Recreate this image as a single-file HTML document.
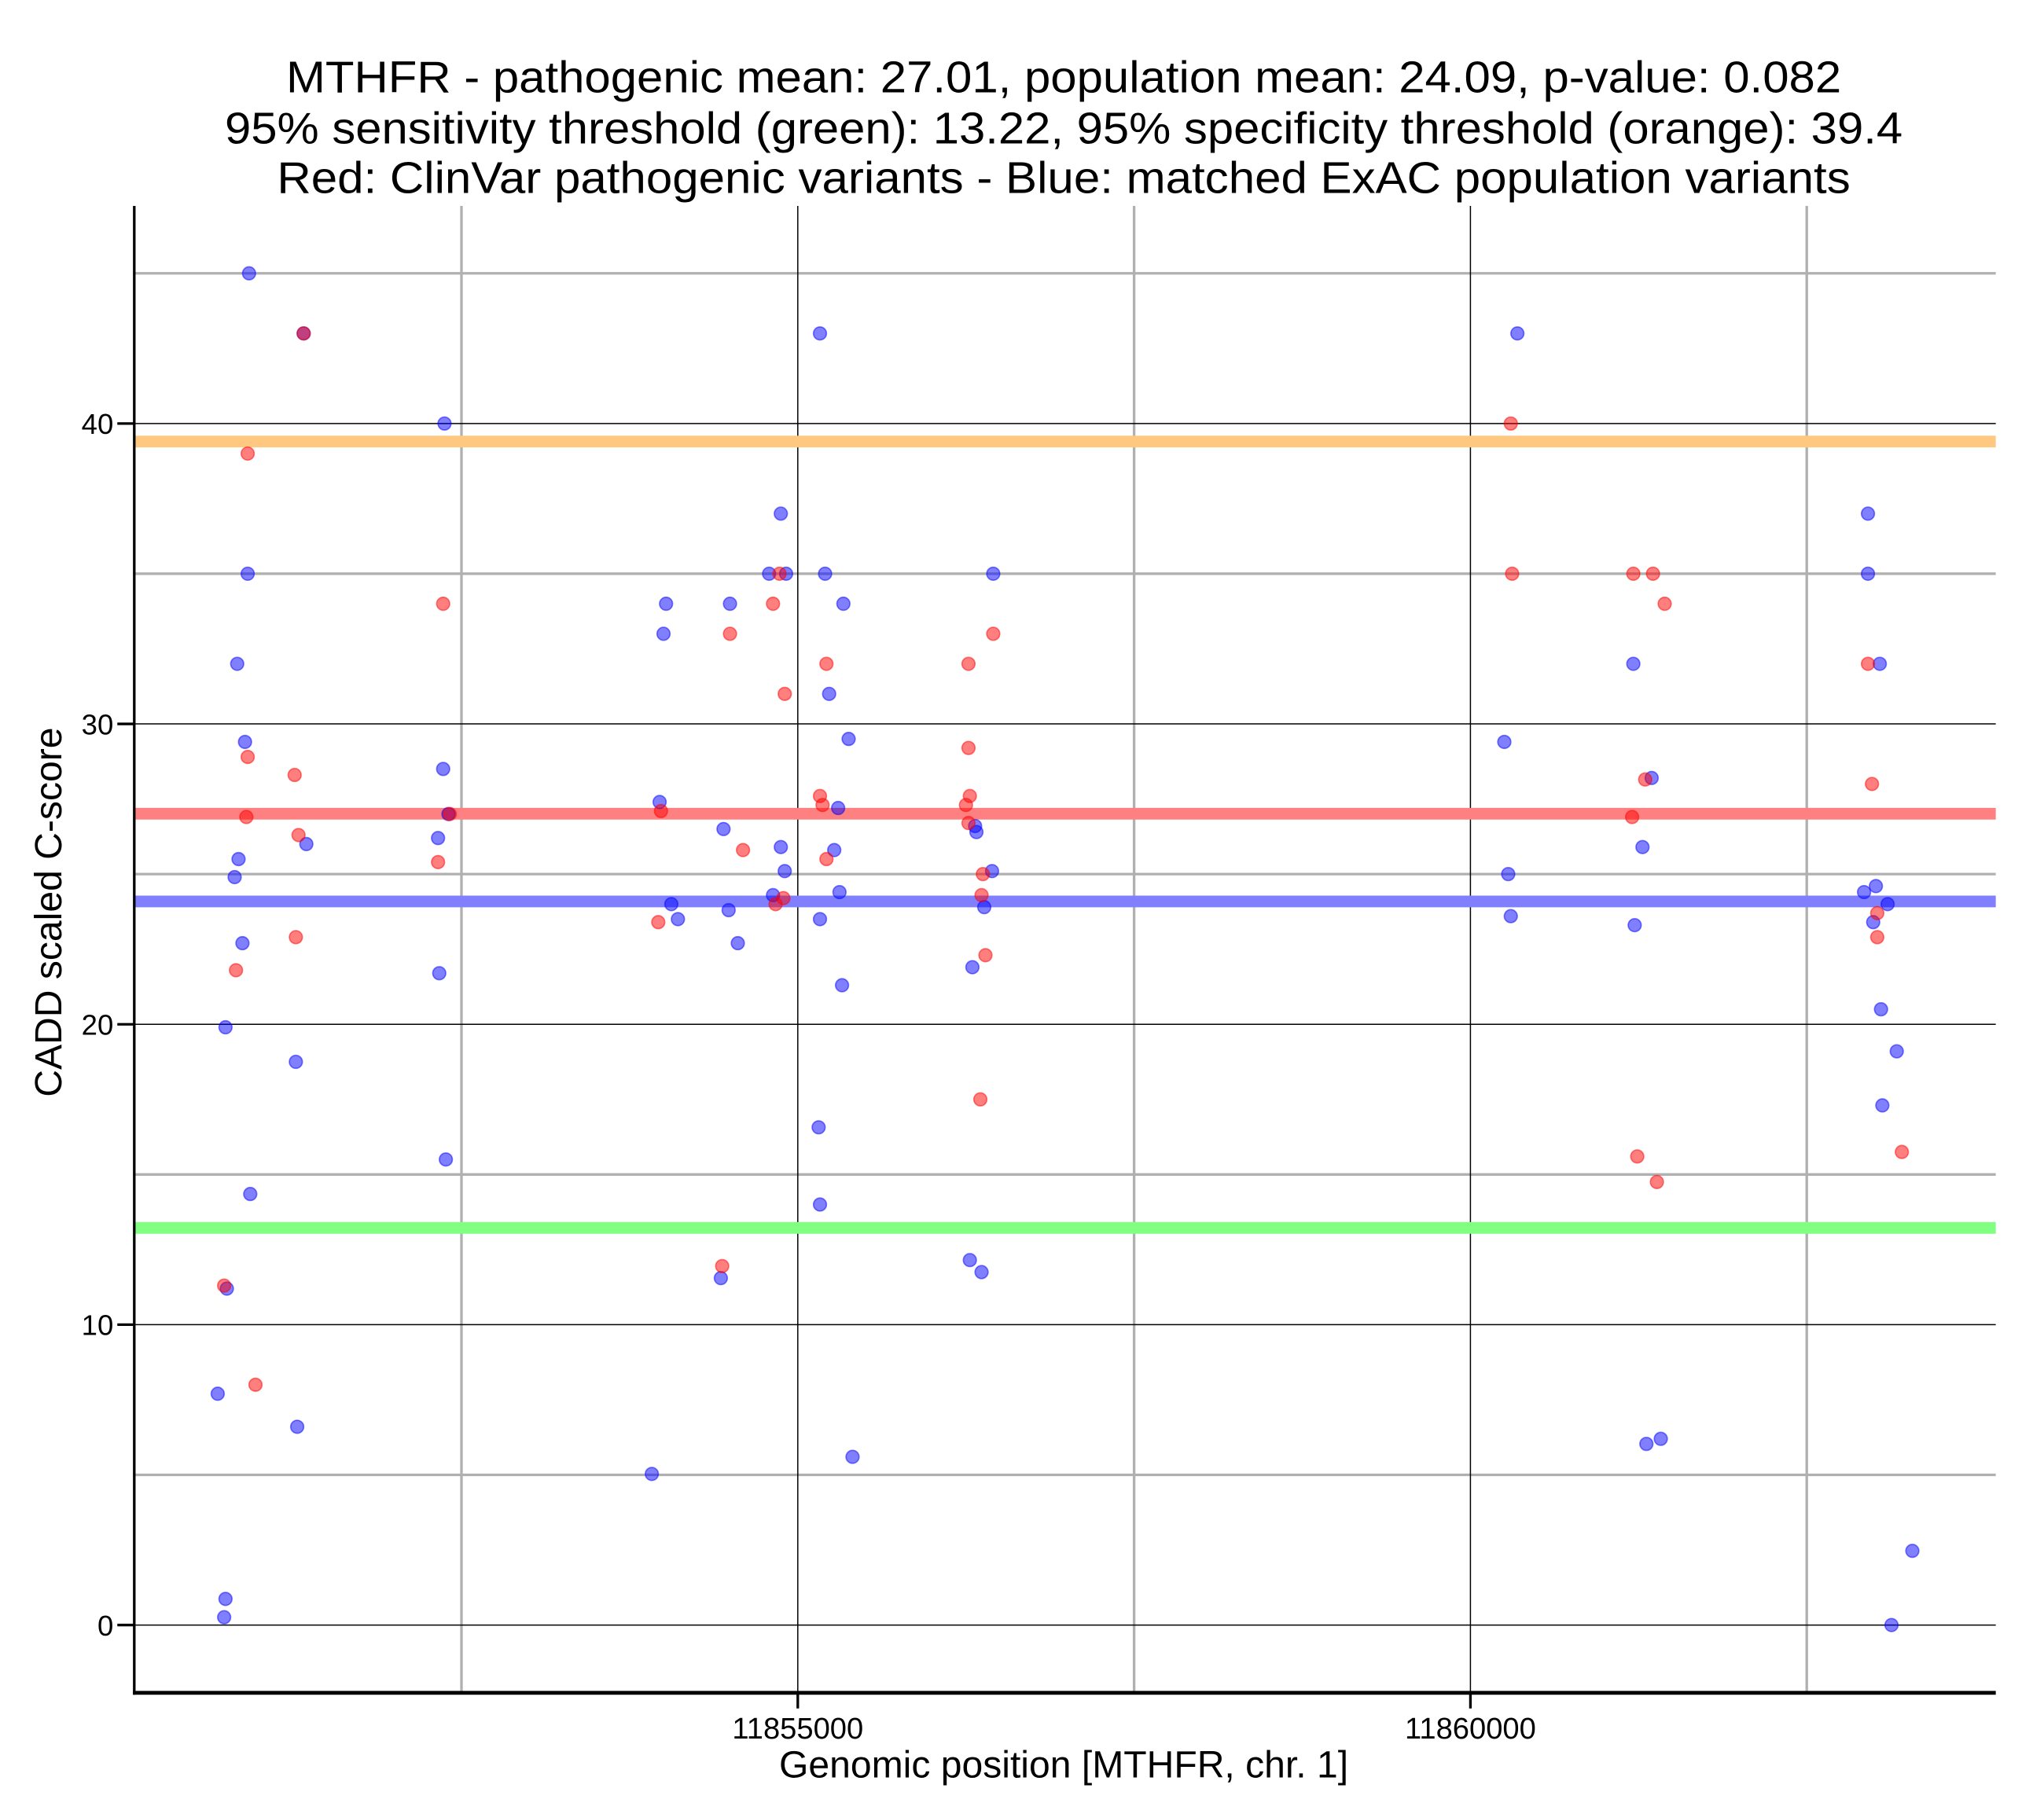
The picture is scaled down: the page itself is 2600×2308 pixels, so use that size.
<!DOCTYPE html>
<html><head><meta charset="utf-8"><style>
html,body{margin:0;padding:0;background:#fff;}
svg{display:block;font-family:"Liberation Sans",Arial,sans-serif;}
</style></head><body>
<svg id="chart" width="2600" height="2308" viewBox="0 0 1568 1392" preserveAspectRatio="none" xmlns="http://www.w3.org/2000/svg">
<rect x="0" y="0" width="1568" height="1392" fill="#fff"/>
<g font-size="34" text-anchor="middle" fill="#000">
<text x="816" y="71" textLength="1193" lengthAdjust="spacingAndGlyphs">MTHFR - pathogenic mean: 27.01, population mean: 24.09, p-value: 0.082</text>
<text x="816" y="110" textLength="1287" lengthAdjust="spacingAndGlyphs">95% sensitivity threshold (green): 13.22, 95% specificity threshold (orange): 39.4</text>
<text x="816" y="148" textLength="1207" lengthAdjust="spacingAndGlyphs">Red: ClinVar pathogenic variants - Blue: matched ExAC population variants</text>
</g>
<g id="grid"></g>
<g id="hlines"></g>
<g id="points"></g>
<g id="axes"></g>
<text x="816" y="1364" font-size="29" text-anchor="middle">Genomic position [MTHFR, chr. 1]</text>
<text transform="translate(47,700) rotate(-90)" font-size="29" text-anchor="middle">CADD scaled C-score</text>
</svg>
<script>
const xTicks = [11855000, 11860000];
const xMinor = [11852500, 11857500, 11862500];
const yTicks = [0, 10, 20, 30, 40];
const yMinor = [5, 15, 25, 35, 45];
const thresholdValues = [39.4, 27.01, 24.09, 13.22];
const thresholdNames = ['specificity-threshold-line', 'pathogenic-mean-line', 'population-mean-line', 'sensitivity-threshold-line'];
const thresholdColors = ['#ffc880', '#ff8080', '#8080ff', '#80ff80'];
const bluePos = [11850921,11851327,11852374,11850911,11850833,11850891,11850843,11850814,11850872,11850746,11851269,11851347,11850930,11850756,11850688,11851279,11850746,11850736,11852364,11852326,11852335,11852384,11852403,
11854021,11854002,11853973,11854060,11854109,11853915,11854496,11854448,11854486,11854554,11854428,
11854787,11854874,11854913,11854874,11854903,11854816,11855165,11855203,11855339,11855233,11855378,11855300,11855271,11855310,11855165,11855329,11855155,11855165,11855407,
11856453,11856318,11856328,11856444,11856386,11856298,11856279,11856366,
11860349,11860252,11860281,11860300,
11861211,11861347,11861279,11861221,11861308,11861415,
11862955,11862955,11863043,11862926,11863014,11862994,11863101,11863052,11863169,11863062,11863285,11863130];
const blueScore = [45,43,40,35,32,29.4,25.5,24.9,22.7,19.9,18.75,26.0,14.35,11.2,7.7,6.6,0.87,0.26,28.5,26.2,21.7,15.5,27.0,
34,33,27.4,24.0,23.5,5.03,34,26.5,23.8,22.7,11.55,
35,37,35,25.9,25.1,24.3,43,35,34,31,29.5,27.2,25.8,24.4,23.5,21.3,16.57,14.0,5.6,
35,26.6,26.4,25.1,23.9,21.9,12.15,11.75,
43,29.4,25,23.6,
32,28.2,25.9,23.3,6.03,6.2,
37,35,32,24.4,24.6,23.4,24.0,20.5,19.1,17.3,2.47,0];
const redPos = [11851327,11850911,11850911,11850901,11850824,11851260,11851289,11851269,11850736,11850969,11852364,11852326,11852413,
11853983,11853963,11854496,11854593,11854438,
11854816,11854864,11854903,11854893,11854835,11855213,11855165,11855184,11855213,
11856269,11856453,11856269,11856279,11856250,11856269,11856376,11856366,11856395,11856357,
11860300,11860310,
11861211,11861357,11861444,11861299,11861202,11861240,11861386,
11862955,11862985,11863024,11863024,11863207];
const redScore = [43,39,28.9,26.9,21.8,28.3,26.3,22.9,11.3,8.0,34,25.4,27.0,
27.1,23.4,33,25.8,11.95,
34,35,31,24.2,24,32,27.6,27.3,25.5,
32,33,29.2,27.6,27.3,26.7,25,24.3,22.3,17.5,
40,35,
35,35,34,28.15,26.9,15.6,14.75,
32,28,23.7,22.9,15.75];

const NS = 'http://www.w3.org/2000/svg';
const L = 103, R = 1531, T = 158, B = 1299;
function xs(p){ return 612 + (p - 11855000) * 516 / 5000; }
function ys(v){ return 1247 - v * 23.05; }
function mk(tag, attrs, parent){ const e = document.createElementNS(NS, tag); for (const k in attrs) e.setAttribute(k, attrs[k]); parent.appendChild(e); return e; }

const grid = document.getElementById('grid');
yMinor.forEach(v => {
  const e = mk('line', {x1:L, x2:R, y1:ys(v), y2:ys(v), stroke:'#b0b0b0', 'stroke-width':2}, grid);
  
  
});
xMinor.forEach(p => {
  const e = mk('line', {x1:xs(p), x2:xs(p), y1:T, y2:B, stroke:'#b0b0b0', 'stroke-width':2}, grid);
  
  
});
yTicks.forEach(v => {
  const e = mk('line', {x1:L, x2:R, y1:ys(v), y2:ys(v), stroke:'#000', 'stroke-width':0.9}, grid);
  
  
});
xTicks.forEach(p => {
  const e = mk('line', {x1:xs(p), x2:xs(p), y1:T, y2:B, stroke:'#000', 'stroke-width':0.9}, grid);
  
  
});

const hl = document.getElementById('hlines');
thresholdValues.forEach((v, i) => {
  const e = mk('line', {x1:L, x2:R, y1:ys(v), y2:ys(v), stroke:thresholdColors[i], 'stroke-width':9}, hl);
  
  
});

const pts = document.getElementById('points');
bluePos.forEach((p, i) => {
  const e = mk('circle', {cx:xs(p), cy:ys(blueScore[i]), r:5, fill:'rgba(0,0,255,0.5)', stroke:'rgba(0,0,255,0.5)', 'stroke-width':1}, pts);
  
  
});
redPos.forEach((p, i) => {
  const e = mk('circle', {cx:xs(p), cy:ys(redScore[i]), r:5, fill:'rgba(255,0,0,0.5)', stroke:'rgba(255,0,0,0.5)', 'stroke-width':1}, pts);
  
  
});

const ax = document.getElementById('axes');
let s = mk('line', {x1:L, x2:L, y1:T, y2:B+1.5, stroke:'#000', 'stroke-width':2}, ax);


s = mk('line', {x1:L-1, x2:R, y1:B, y2:B, stroke:'#000', 'stroke-width':3}, ax);


yTicks.forEach(v => {
  const t = mk('line', {x1:L-13, x2:L, y1:ys(v), y2:ys(v), stroke:'#000', 'stroke-width':2}, ax);
  
  
  const lb = mk('text', {x:L-16, y:ys(v)+8, 'font-size':22, 'text-anchor':'end'}, ax);
  lb.textContent = String(v);
  
  
});
xTicks.forEach(p => {
  const t = mk('line', {x1:xs(p), x2:xs(p), y1:B, y2:B+12, stroke:'#000', 'stroke-width':2}, ax);
  
  
  const lb = mk('text', {x:xs(p), y:1334, 'font-size':23, 'text-anchor':'middle'}, ax);
  lb.textContent = String(p);
  
  
});
</script>
</body></html>
